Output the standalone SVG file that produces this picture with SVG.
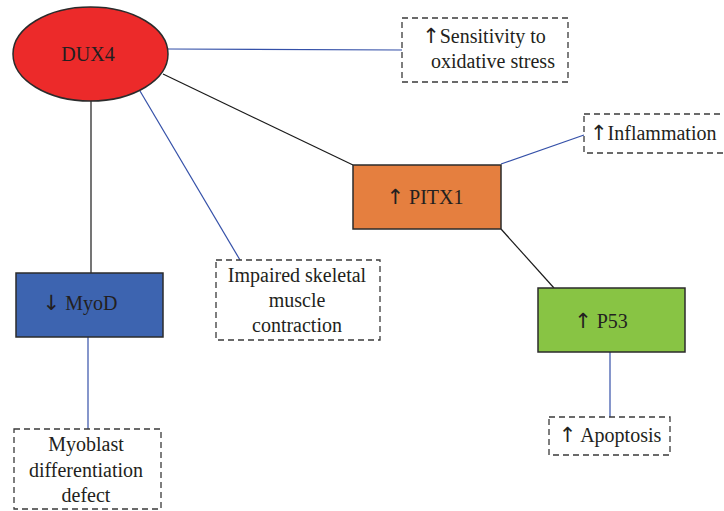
<svg xmlns="http://www.w3.org/2000/svg" width="724" height="511" viewBox="0 0 724 511">
<defs>
<style>
.n{stroke:#2b2b2b;stroke-width:1.5}
.d{fill:#fff;stroke:#3a3a3a;stroke-width:1.3;stroke-dasharray:6,4}
</style>
</defs>
<rect width="724" height="511" fill="#fff"/>
<g id="connectors" fill="none" stroke-width="1.2">
<g stroke="#3450a8">
<line x1="168" y1="49" x2="402" y2="50"/>
<line x1="140" y1="91" x2="240" y2="260"/>
<line x1="501" y1="164" x2="584" y2="135"/>
<line x1="88" y1="337" x2="88" y2="429"/>
<line x1="610" y1="352" x2="610" y2="417"/>
</g>
<g stroke="#1a1a1a">
<line x1="163" y1="74" x2="353" y2="165"/>
<line x1="91" y1="101" x2="91" y2="273"/>
<line x1="501" y1="229" x2="554" y2="288"/>
</g>
</g>
<g id="dux4">
<ellipse class="n" cx="90.5" cy="54" rx="77.5" ry="47" fill="#ec2a2a"/>
<text x="88" y="61" font-family="Liberation Serif" font-size="20" fill="#231f20" text-anchor="middle">DUX4</text>
</g>
<g id="sensitivity">
<rect class="d" x="402" y="18" width="166" height="64"/>
<text x="484" y="43" font-family="Liberation Serif" font-size="20" fill="#231f20" text-anchor="middle"><tspan font-family="DejaVu Sans" font-size="21">↑</tspan>Sensitivity to</text>
<text x="493" y="68" font-family="Liberation Serif" font-size="20" fill="#231f20" text-anchor="middle">oxidative stress</text>
</g>
<g id="inflammation">
<rect class="d" x="584" y="114" width="160" height="39"/>
<text x="590" y="140" font-family="Liberation Serif" font-size="20" fill="#231f20"><tspan font-family="DejaVu Sans" font-size="21">↑</tspan>Inflammation</text>
</g>
<g id="pitx1">
<rect class="n" x="353" y="165" width="148" height="64" fill="#e57f3f"/>
<text x="425" y="204" font-family="Liberation Serif" font-size="20" fill="#231f20" text-anchor="middle"><tspan font-family="DejaVu Sans" font-size="21">↑</tspan> PITX1</text>
</g>
<g id="myod">
<rect class="n" x="16" y="273" width="147" height="64" fill="#3d64b0"/>
<text x="80" y="310" font-family="Liberation Serif" font-size="20" fill="#231f20" text-anchor="middle"><tspan font-family="DejaVu Sans" font-size="21">↓</tspan> MyoD</text>
</g>
<g id="impaired">
<rect class="d" x="216" y="260" width="164" height="80"/>
<text x="297" y="282" font-family="Liberation Serif" font-size="20" fill="#231f20" text-anchor="middle">Impaired skeletal</text>
<text x="297" y="307" font-family="Liberation Serif" font-size="20" fill="#231f20" text-anchor="middle">muscle</text>
<text x="297" y="332" font-family="Liberation Serif" font-size="20" fill="#231f20" text-anchor="middle">contraction</text>
</g>
<g id="myoblast">
<rect class="d" x="14" y="429" width="147" height="80"/>
<text x="86" y="451" font-family="Liberation Serif" font-size="20" fill="#231f20" text-anchor="middle">Myoblast</text>
<text x="86" y="477" font-family="Liberation Serif" font-size="20" fill="#231f20" text-anchor="middle">differentiation</text>
<text x="86" y="502" font-family="Liberation Serif" font-size="20" fill="#231f20" text-anchor="middle">defect</text>
</g>
<g id="p53">
<rect class="n" x="538" y="288" width="147" height="64" fill="#88c444"/>
<text x="601" y="328" font-family="Liberation Serif" font-size="20" fill="#231f20" text-anchor="middle"><tspan font-family="DejaVu Sans" font-size="21">↑</tspan> P53</text>
</g>
<g id="apoptosis">
<rect class="d" x="549" y="417" width="121" height="38"/>
<text x="610" y="442" font-family="Liberation Serif" font-size="20" fill="#231f20" text-anchor="middle"><tspan font-family="DejaVu Sans" font-size="21">↑</tspan> Apoptosis</text>
</g>
</svg>
